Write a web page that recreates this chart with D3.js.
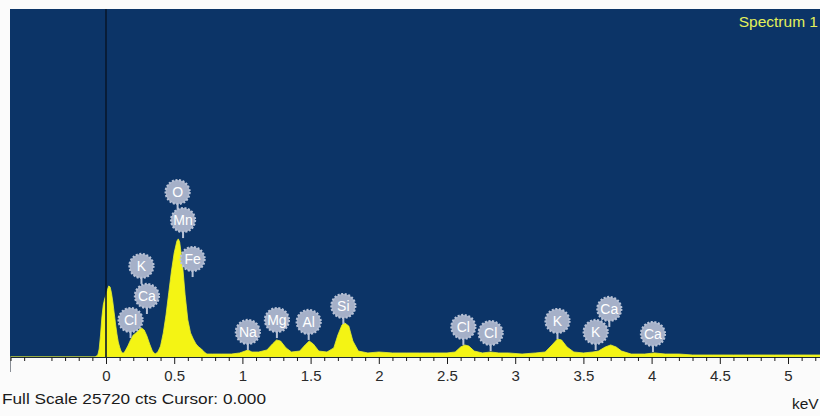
<!DOCTYPE html>
<html><head><meta charset="utf-8">
<script src="https://cdn.jsdelivr.net/npm/d3@7"></script>
<style>body{margin:0;background:#fff;} svg{display:block;}</style>
</head><body>
<svg id="chart" width="820" height="416"></svg>
<script>
// ---- data ----
const energy = [-0.70,-0.08,-0.06,-0.05,-0.04,-0.03,-0.02,-0.01,0.00,0.01,0.02,0.03,0.04,0.05,0.06,0.07,0.08,0.09,0.10,0.11,0.12,0.13,0.14,0.16,0.18,0.20,0.22,0.24,0.26,0.28,0.30,0.32,0.34,0.36,0.38,0.40,0.42,0.44,0.46,0.48,0.50,0.52,0.53,0.54,0.56,0.58,0.60,0.62,0.64,0.66,0.68,0.70,0.72,0.74,0.78,0.85,0.92,0.98,1.02,1.04,1.07,1.12,1.18,1.22,1.25,1.28,1.32,1.36,1.42,1.46,1.49,1.52,1.56,1.62,1.67,1.70,1.73,1.75,1.78,1.81,1.85,1.92,2.00,2.10,2.20,2.30,2.40,2.50,2.56,2.60,2.63,2.66,2.70,2.76,2.82,2.88,2.95,3.05,3.15,3.22,3.27,3.31,3.34,3.38,3.43,3.50,3.57,3.61,3.66,3.70,3.74,3.78,3.85,3.95,4.02,4.10,4.20,4.30,4.45,4.60,4.75,4.90,5.05,5.25];
const counts = [0,0,150,590,1630,2960,3850,4290,4590,4960,5250,5180,4740,4070,3260,2440,1700,1110,740,440,300,300,440,810,1260,1630,1780,2000,2150,2000,1550,960,440,220,370,810,1780,3110,4740,6360,7700,8580,8730,8510,6960,4590,2740,1780,1330,960,740,590,370,220,220,220,220,300,440,520,370,370,520,960,1260,1180,670,370,440,890,1180,960,440,370,670,1630,2370,2520,2290,1180,440,300,370,300,300,300,300,300,370,740,890,810,440,300,370,300,300,220,300,370,890,1330,1260,740,370,300,370,440,740,890,740,440,220,220,300,220,220,150,150,150,150,150,150,150];

const tickValues = [0,0.5,1,1.5,2,2.5,3,3.5,4,4.5,5];
const tickLabels = ["0","0.5","1","1.5","2","2.5","3","3.5","4","4.5","5"];

const peakElements = ["O","Mn","Fe","K","Ca","Cl","Na","Mg","Al","Si","Cl","Cl","K","K","Ca","Ca"];
const peakEnergies = [0.525,0.565,0.635,0.26,0.30,0.18,1.04,1.253,1.486,1.74,2.62,2.82,3.31,3.59,3.69,4.01];
const peakMarkerCounts = [10860,8790,5910,5400,3180,1400,520,1400,1260,2440,890,440,1330,520,2220,370];

const fullScale = 25720;
const cursorValue = 0.000;
const spectrumName = "Spectrum 1";
const unitLabel = "keV";

// ---- drawing ----
const svg = d3.select("#chart");
const W = 820, H = 416;
const plot = {left: 10, top: 9, right: 820, bottom: 357};
const font = "'Liberation Sans', Arial, sans-serif";

const x = d3.scaleLinear().domain([0, 5]).range([106, 788]);
const y = d3.scaleLinear().domain([0, fullScale]).range([plot.bottom, plot.top]);

svg.append("rect").attr("x",0).attr("y",0).attr("width",W).attr("height",H).attr("fill","#fbfbfb");

svg.append("defs").append("clipPath").attr("id","clip")
  .append("rect").attr("x",plot.left).attr("y",plot.top)
  .attr("width",plot.right-plot.left).attr("height",plot.bottom-plot.top);

svg.append("rect").attr("x",plot.left).attr("y",plot.top)
  .attr("width",plot.right-plot.left).attr("height",plot.bottom-plot.top)
  .attr("fill","#0c3467");

const data = energy.map((e,i)=>({e, c: counts[i]}));
const area = d3.area().x(d=>x(d.e)).y0(y(0)).y1(d=>y(d.c)).curve(d3.curveLinear);
svg.append("path").datum(data).attr("clip-path","url(#clip)")
  .attr("d", area).attr("fill","#f4f414").attr("stroke","#e8f030").attr("stroke-width",0.8);

// cursor line
svg.append("line").attr("x1",x(cursorValue)).attr("x2",x(cursorValue))
  .attr("y1",plot.top).attr("y2",plot.bottom)
  .attr("stroke","#08172c").attr("stroke-width",1.6);

// axis baseline
svg.append("line").attr("x1",plot.left).attr("x2",plot.right)
  .attr("y1",plot.bottom+0.5).attr("y2",plot.bottom+0.5)
  .attr("stroke","#1d2a38").attr("stroke-width",1.2);
svg.append("line").attr("x1",plot.left+0.5).attr("x2",plot.left+0.5)
  .attr("y1",plot.bottom).attr("y2",plot.bottom+15)
  .attr("stroke","#8a8f96").attr("stroke-width",1);

// minor ticks
const minor = d3.range(-7, 53).map(i=>i/10).filter(v=>Math.abs(v*2 - Math.round(v*2))>1e-6);
const gMinor = svg.append("g").attr("transform",`translate(0,${plot.bottom})`)
  .call(d3.axisBottom(x).tickValues(minor).tickSize(4).tickSizeOuter(0).tickFormat(""));
gMinor.select(".domain").remove();
gMinor.selectAll(".tick line").attr("stroke","#1a1a1a");

const gMajor = svg.append("g").attr("transform",`translate(0,${plot.bottom})`)
  .call(d3.axisBottom(x).tickValues(tickValues).tickSize(7).tickSizeOuter(0)
    .tickFormat((d,i)=>tickLabels[i]));
gMajor.select(".domain").remove();
gMajor.selectAll(".tick line").attr("stroke","#1a1a1a");
gMajor.selectAll(".tick text").attr("font-family",font)
  .attr("font-size",15).attr("fill","#2a2a2a").attr("y",13);

// peak labels
const labels = svg.append("g");
peakElements.forEach((el,i)=>{
  const g = labels.append("g").attr("transform",`translate(${x(peakEnergies[i])},${y(peakMarkerCounts[i])})`);
  g.append("line").attr("x1",0).attr("x2",0).attr("y1",0).attr("y2",-7)
    .attr("stroke","#b9c3d6").attr("stroke-width",2);
  g.append("circle").attr("cx",0).attr("cy",-18).attr("r",12)
    .attr("fill","#a5b0c8").attr("stroke","#b8c2d6").attr("stroke-width",2.2)
    .attr("stroke-dasharray","2,1.6");
  g.append("text").attr("x",0).attr("y",-18).attr("dy","0.36em")
    .attr("text-anchor","middle").attr("font-family",font)
    .attr("font-size",14).attr("fill","#ffffff").text(el);
});

// spectrum name
svg.append("text").attr("x",818).attr("y",27).attr("text-anchor","end")
  .attr("font-family",font).attr("font-size",15.5)
  .attr("fill","#e4f05a").text(spectrumName);

// footer
svg.append("text").attr("x",2).attr("y",404)
  .attr("font-family",font).attr("font-size",15.5)
  .attr("textLength",264).attr("lengthAdjust","spacingAndGlyphs")
  .attr("fill","#1a1a1a")
  .text(`Full Scale ${fullScale} cts Cursor: ${cursorValue.toFixed(3)}`);
svg.append("text").attr("x",792).attr("y",409)
  .attr("font-family",font).attr("font-size",15.5)
  .attr("fill","#1a1a1a").text(unitLabel);
</script>
</body></html>
